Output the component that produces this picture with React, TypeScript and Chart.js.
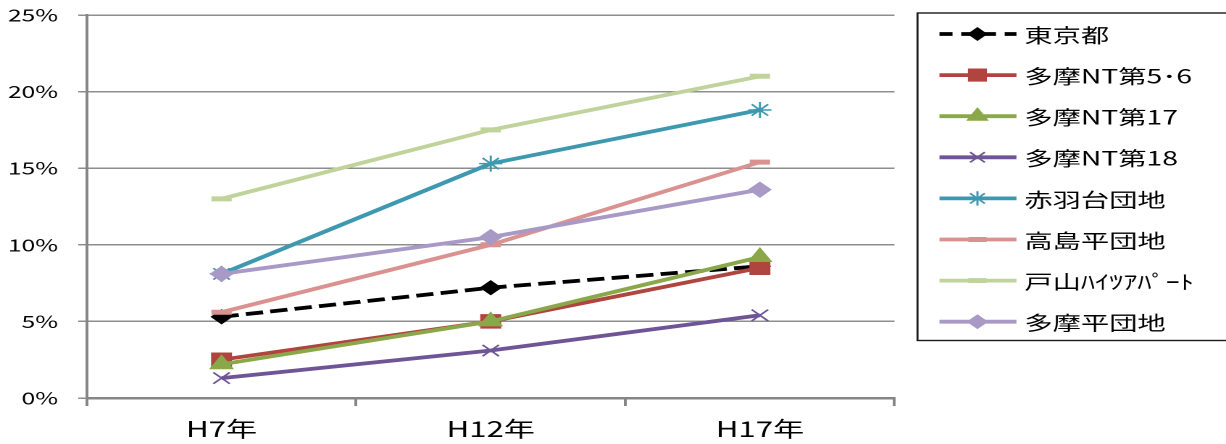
import React, { useEffect, useRef } from 'react';
import { Chart, registerables } from 'chart.js';
import { drawPoint } from 'chart.js/helpers';

Chart.register(...registerables);

// Categories (survey years) and y-axis range
const categories = ['H7年', 'H12年', 'H17年'];
const yMin = 0;
const yMax = 25;
const yStep = 5;

// Share (%) per area and year
const tokyo = [5.3, 7.2, 8.6];
const tamaNT56 = [2.5, 5.0, 8.5];
const tamaNT17 = [2.2, 5.0, 9.2];
const tamaNT18 = [1.3, 3.1, 5.4];
const akabanedai = [8.1, 15.3, 18.8];
const takashimadaira = [5.6, 10.0, 15.4];
const toyama = [13.0, 17.5, 21.0];
const tamadaira = [8.1, 10.5, 13.6];

const seriesLabels = [
  '東京都',
  '多摩NT第5･6',
  '多摩NT第17',
  '多摩NT第18',
  '赤羽台団地',
  '高島平団地',
  '戸山ﾊｲﾂｱﾊﾟｰﾄ',
  '多摩平団地',
];
const seriesValues = [tokyo, tamaNT56, tamaNT17, tamaNT18, akabanedai, takashimadaira, toyama, tamadaira];

// The drawing is laid out on a narrower logical canvas and widened by CSS.
const W = 1226;
const H = 444;
const STRETCH = 1.45;
const LW = Math.round(W / STRETCH);
const FONT = '"Noto Sans CJK JP", "Noto Sans", sans-serif';

type Style = {
  color: string;
  dash?: number[];
  pointStyle: string;
  radius: number;
  pointBorderWidth: number;
  fill: boolean;
};

const styles: Style[] = [
  { color: '#000000', dash: [12, 5], pointStyle: 'rectRot', radius: 7, pointBorderWidth: 1, fill: true },
  { color: '#B0443F', pointStyle: 'rect', radius: 9.5, pointBorderWidth: 1, fill: true },
  { color: '#8AA84A', pointStyle: 'triangle', radius: 9, pointBorderWidth: 1, fill: true },
  { color: '#6F5596', pointStyle: 'crossRot', radius: 8, pointBorderWidth: 1.5, fill: false },
  { color: '#3E98AF', pointStyle: 'star', radius: 8, pointBorderWidth: 1.5, fill: false },
  { color: '#D99290', pointStyle: 'line', radius: 7, pointBorderWidth: 5, fill: false },
  { color: '#BFD39A', pointStyle: 'line', radius: 7, pointBorderWidth: 5, fill: false },
  { color: '#A999C6', pointStyle: 'rectRot', radius: 7.5, pointBorderWidth: 1, fill: true },
];

// Framed legend on the right: line sample with marker, then the label
const boxLegend = {
  id: 'boxLegend',
  afterDraw(chart: any) {
    const ctx = chart.ctx as CanvasRenderingContext2D;
    const boxX = 918 / STRETCH;
    const boxTop = 13;
    const boxBottom = 340.5;
    const lineX0 = 940 / STRETCH;
    const lineX1 = 1017 / STRETCH;
    const markX = 978 / STRETCH;
    const textX = 1025 / STRETCH;
    ctx.save();
    ctx.strokeStyle = '#1a1a1a';
    ctx.lineWidth = 1.4;
    ctx.strokeRect(boxX, boxTop, chart.width - boxX + 10, boxBottom - boxTop);
    chart.data.datasets.forEach((ds: any, i: number) => {
      const st = styles[i];
      const y = 34 + i * 41.1;
      ctx.strokeStyle = st.color;
      ctx.lineWidth = 3.8;
      ctx.lineCap = 'butt';
      ctx.setLineDash(st.dash ? [9, 6] : []);
      ctx.beginPath();
      ctx.moveTo(lineX0, y);
      ctx.lineTo(lineX1, y);
      ctx.stroke();
      ctx.setLineDash([]);
      ctx.fillStyle = st.color;
      ctx.strokeStyle = st.color;
      ctx.lineWidth = st.pointBorderWidth;
      drawPoint(ctx, {
        pointStyle: st.pointStyle,
        radius: st.radius * 0.9,
        rotation: 0,
        borderWidth: st.pointBorderWidth,
      } as any, markX, y);
      ctx.fillStyle = '#000';
      ctx.font = `19.5px ${FONT}`;
      ctx.textBaseline = 'middle';
      ctx.textAlign = 'left';
      ctx.fillText(ds.label, textX, y + 1);
    });
    ctx.restore();
  },
};

export default function App() {
  const canvasRef = useRef<HTMLCanvasElement | null>(null);

  useEffect(() => {
    const canvas = canvasRef.current;
    if (!canvas) return;
    Chart.defaults.font.family = FONT;

    const datasets = seriesValues.map((values, i) => {
      const st = styles[i];
      return {
        label: seriesLabels[i],
        data: values,
        borderColor: st.color,
        backgroundColor: st.color,
        borderWidth: 3.8,
        borderDash: st.dash || [],
        tension: 0,
        pointStyle: st.pointStyle,
        pointRadius: st.radius,
        pointHoverRadius: st.radius,
        pointBackgroundColor: st.fill ? st.color : 'rgba(0,0,0,0)',
        pointBorderColor: st.color,
        pointBorderWidth: st.pointBorderWidth,
        order: seriesValues.length - i,
      };
    });

    const chart = new Chart(canvas, {
      type: 'line',
      data: { labels: categories, datasets },
      options: {
        responsive: false,
        animation: false,
        devicePixelRatio: 2,
        layout: { padding: { left: 0, top: 15, right: LW - 895 / STRETCH, bottom: 0 } },
        plugins: {
          legend: { display: false },
          tooltip: { enabled: false },
        },
        scales: {
          x: {
            offset: true,
            grid: {
              offset: true,
              drawOnChartArea: false,
              drawTicks: true,
              tickLength: 8,
              color: '#868686',
              lineWidth: 2,
            },
            border: { color: '#868686', width: 2.5 },
            ticks: {
              color: '#000',
              font: { size: 21.5 },
              padding: 10,
              maxRotation: 0,
              autoSkip: false,
            },
            afterFit: (s: any) => {
              s.height = 46;
            },
          },
          y: {
            min: yMin,
            max: yMax,
            grid: {
              color: '#8e8e8e',
              lineWidth: 1.5,
              tickLength: 6,
            },
            border: { color: '#868686', width: 2 },
            ticks: {
              stepSize: yStep,
              color: '#000',
              font: { size: 17 },
              padding: 14,
              callback: (v: any) => `${v}%`,
            },
            afterFit: (s: any) => {
              s.width = 87 / STRETCH;
              s.paddingTop = 0;
              s.paddingBottom = 0;
            },
          },
        },
      },
      plugins: [boxLegend],
    });

    return () => chart.destroy();
  }, []);

  return (
    <canvas
      ref={canvasRef}
      width={LW}
      height={H}
      style={{ position: 'fixed', left: 0, top: 0, width: `${W}px`, height: `${H}px` }}
    />
  );
}
